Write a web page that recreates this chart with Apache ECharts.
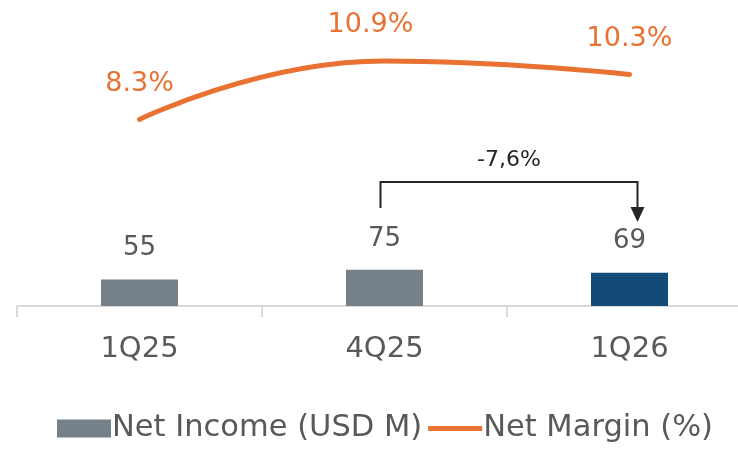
<!DOCTYPE html>
<html>
<head>
<meta charset="utf-8">
<script src="https://cdn.jsdelivr.net/npm/echarts@6/dist/echarts.min.js"></script>
<style>
	html, body { margin: 0; padding: 0; background: #fff; }
	#chart { width: 738px; height: 453px; }
</style>
</head>
<body>
<div id="chart"></div>
<script>
// 数据
var quarters = ['1Q25', '4Q25', '1Q26'];
var netIncome = [55, 75, 69];
var netMargin = [8.3, 10.9, 10.3];
var changeLabel = '-7,6%';

var font = 'DejaVu Sans';
var grey = '#595959';
var orange = '#e97132';

var myChart = echarts.init(document.getElementById('chart'));

var barData = netIncome.map(function (v, i) {
	return {
		value: v,
		itemStyle: { color: i == netIncome.length - 1 ? '#124a78' : '#758089' }
	};
});

var option = {
	animation: false,
	textStyle: { fontFamily: font },
	grid: { left: 17, width: 735, top: 7, bottom: 147, outerBoundsMode: 'none', containLabel: false },
	legend: {
		bottom: 4,
		left: 52,
		itemGap: 6,
		itemWidth: 54,
		itemHeight: 18,
		textStyle: { fontSize: 30.5, color: grey, padding: [0, 0, 0, -4] },
		data: [
			{ name: 'Net Income (USD M)', icon: 'rect' },
			{ name: 'Net Margin (%)', icon: 'path://M0,0h60v5.5h-60z', itemStyle: { color: orange } }
		]
	},
	xAxis: {
		type: 'category',
		data: quarters,
		axisLine: { lineStyle: { color: '#d9d9d9', width: 2 } },
		axisTick: { show: true, length: 11, lineStyle: { color: '#d9d9d9', width: 2 } },
		axisLabel: { fontSize: 29, color: grey, margin: 29 }
	},
	yAxis: [{
		type: 'value', min: 0, max: 620, show: false, splitLine: { show: false }
	}, {
		type: 'value', min: 0, max: 13.3, show: false, splitLine: { show: false }
	}],
	series: [{
		name: 'Net Income (USD M)',
		type: 'bar',
		barWidth: 77,
		data: barData,
		itemStyle: { color: '#758089' },
		label: {
			show: true,
			position: 'top',
			distance: 18,
			fontSize: 26,
			color: grey
		}
	}, {
		name: 'Net Margin (%)',
		type: 'line',
		yAxisIndex: 1,
		smooth: 0.5,
		symbol: 'circle',
		symbolSize: 0.01,
		showSymbol: true,
		data: netMargin.map(function (v, i) {
			return { value: v, label: { offset: i == 1 ? [-14, 0] : [0, 0] } };
		}),
		lineStyle: { color: orange, width: 5, cap: 'round' },
		itemStyle: { color: orange },
		label: {
			show: true,
			position: 'top',
			distance: 22,
			fontSize: 27,
			color: orange,
			formatter: function (p) { return p.value.toFixed(1) + '%'; }
		}
	}]
};
myChart.setOption(option);

// 变化标注 (4Q25 -> 1Q26)
var p1 = myChart.convertToPixel({ seriesIndex: 0 }, [1, netIncome[1]]);
var p2 = myChart.convertToPixel({ seriesIndex: 0 }, [2, netIncome[2]]);
var x1 = p1[0] - 4, x2 = p2[0] + 8;
var yTop = 182;
myChart.setOption({
	graphic: [{
		type: 'polyline',
		shape: { points: [[x1, 208], [x1, yTop], [x2, yTop], [x2, 210]] },
		style: { stroke: '#262626', lineWidth: 2, fill: null }
	}, {
		type: 'polygon',
		shape: { points: [[x2 - 7, 207], [x2 + 7, 207], [x2, 222]] },
		style: { fill: '#262626' }
	}, {
		type: 'text',
		x: (x1 + x2) / 2,
		y: 160,
		style: {
			text: changeLabel,
			fontSize: 22,
			fontFamily: font,
			fill: '#262626',
			align: 'center',
			verticalAlign: 'middle'
		}
	}]
});
</script>
</body>
</html>
